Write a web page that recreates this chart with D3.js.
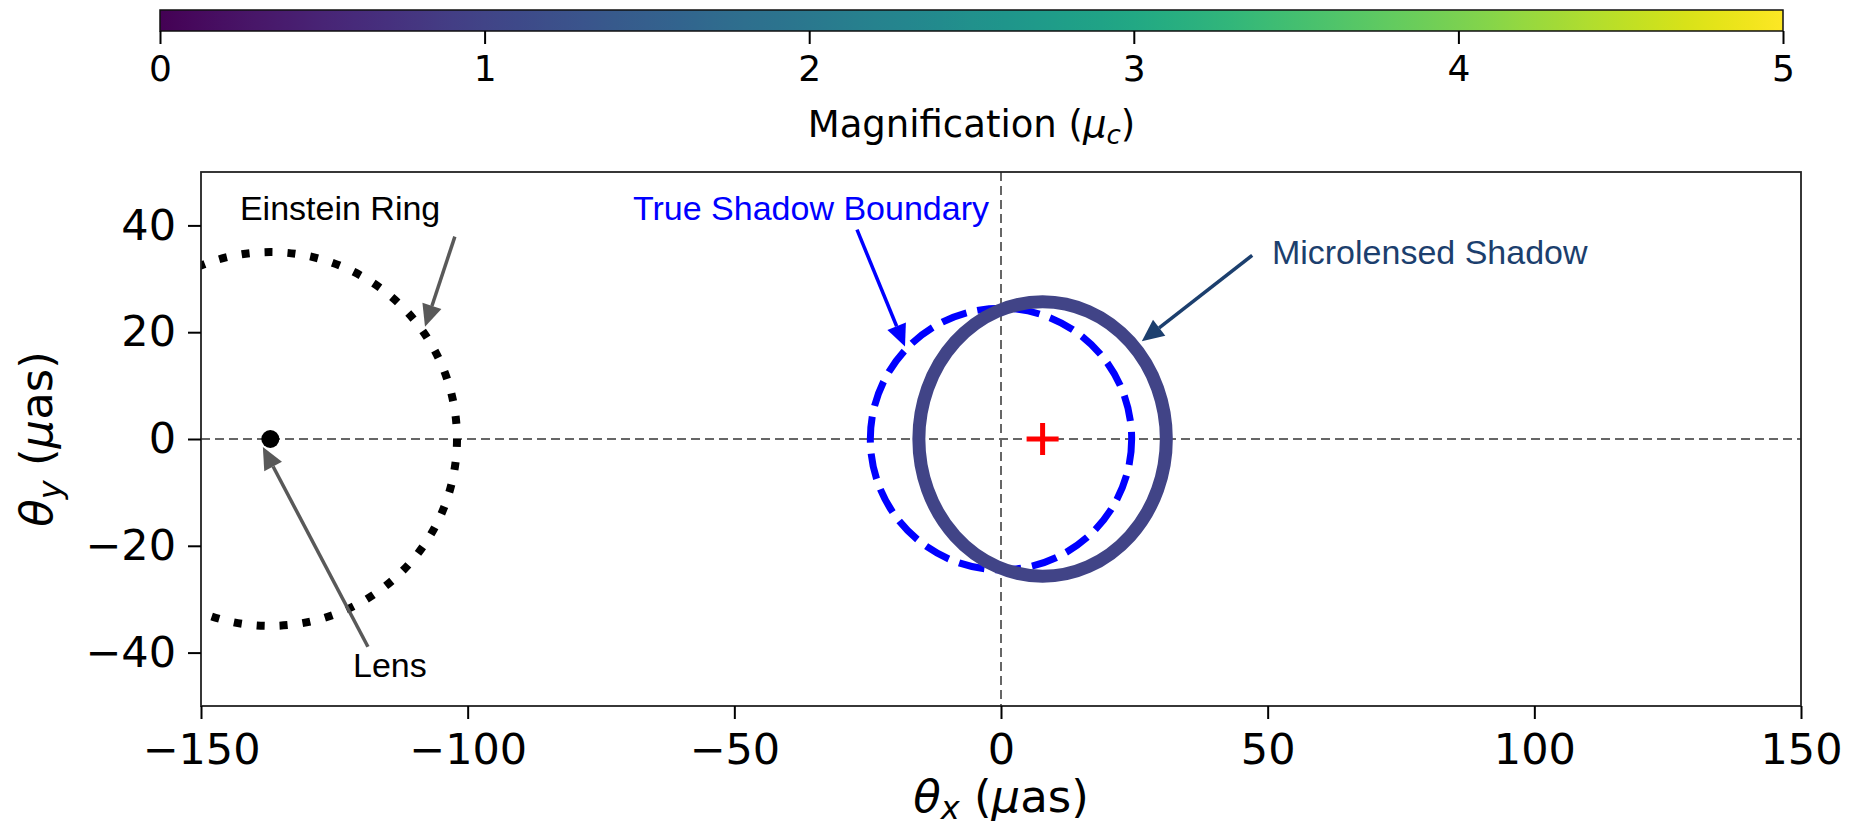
<!DOCTYPE html>
<html>
<head>
<meta charset="utf-8">
<script src="https://cdn.jsdelivr.net/npm/d3@7"></script>
<style>
  html, body { margin: 0; padding: 0; background: #fff; }
  svg { display: block; }
</style>
</head>
<body>
<div id="chart"></div>
<script>
// tick values
const xTicks = [-150, -100, -50, 0, 50, 100, 150];
const yTicks = [-40, -20, 0, 20, 40];
const cbTicks = [0, 1, 2, 3, 4, 5];

// lens position (µas)
const lensX = [-137];
const lensY = [0];

// rings: einstein ring, true shadow, microlensed shadow
const ringNames = ["Einstein Ring", "True Shadow Boundary", "Microlensed Shadow"];
const ringCx = [-137, 0, 7.8];
const ringCy = [0, 0, 0];
const ringRx = [35, 24.5, 23.2];
const ringRy = [35, 24.5, 25.7];
const shadowMag = [1];

// shadow centroid marker
const centroidX = [7.8];
const centroidY = [0];

// annotations: label, text position, arrow tail, arrow head (data coords)
const annLabels = ["Einstein Ring", "Lens", "True Shadow Boundary", "Microlensed Shadow"];
const annTextX = [-142.7, -121.5, -69.0, 50.8];
const annTextY = [41.1, -44.6, 41.1, 32.7];
const annTailX = [-102.4, -118.7, -27.0, 47.1];
const annTailY = [37.9, -38.9, 39.2, 34.4];
const annHeadX = [-108.0, -138.4, -18.0, 26.4];
const annHeadY = [21.0, -1.5, 17.3, 18.3];
const annColors = ["#000000", "#000000", "#0000ff", "#1c3f6e"];
const arrowColors = ["#595959", "#595959", "#0000ff", "#1c3f6e"];

const width = 1851;
const height = 831;

const svg = d3.select("#chart")
  .append("svg")
  .attr("width", width)
  .attr("height", height)
  .style("font-family", "'DejaVu Sans', sans-serif");

const x = d3.scaleLinear().domain([-150, 150]).range([201, 1801]);
const y = d3.scaleLinear().domain([-50, 50]).range([706, 172]);
const color = d3.scaleSequential(d3.interpolateViridis).domain([0, 5]);

// ---- colorbar ----
const cb = d3.scaleLinear().domain([0, 5]).range([160, 1783]);
const grad = svg.append("defs").append("linearGradient")
  .attr("id", "viridis")
  .attr("x1", "0%").attr("x2", "100%");
d3.range(0, 1.0001, 0.02).forEach(t => {
  grad.append("stop")
    .attr("offset", (t * 100) + "%")
    .attr("stop-color", color(t * 5));
});
svg.append("rect")
  .attr("x", cb(0)).attr("y", 10)
  .attr("width", cb(5) - cb(0)).attr("height", 21)
  .attr("fill", "url(#viridis)")
  .attr("stroke", "#111").attr("stroke-width", 1.5);

const cbAxis = svg.append("g")
  .attr("transform", "translate(0,31)")
  .call(d3.axisBottom(cb).tickValues(cbTicks).tickSize(13).tickPadding(11).tickFormat(d3.format("d")));
cbAxis.select(".domain").remove();
cbAxis.selectAll(".tick line").attr("stroke", "#000").attr("stroke-width", 2);
cbAxis.selectAll(".tick text").attr("font-size", 36).attr("fill", "#000")
  .style("font-family", "'DejaVu Sans', sans-serif");

const cbLabel = svg.append("text")
  .attr("x", (cb(0) + cb(5)) / 2).attr("y", 137)
  .attr("text-anchor", "middle")
  .attr("font-size", 37);
cbLabel.append("tspan").text("Magnification (");
cbLabel.append("tspan").attr("font-style", "italic").text("μ");
cbLabel.append("tspan").attr("font-style", "italic").attr("font-size", 26).attr("dy", 7).text("c");
cbLabel.append("tspan").attr("dy", -7).text(")");

// ---- plot area ----
svg.append("defs").append("clipPath").attr("id", "clip")
  .append("rect")
  .attr("x", x(-150)).attr("y", y(50))
  .attr("width", x(150) - x(-150)).attr("height", y(-50) - y(50));

const plot = svg.append("g").attr("clip-path", "url(#clip)");

// crosshair
plot.append("line")
  .attr("x1", x(-150)).attr("x2", x(150)).attr("y1", y(0)).attr("y2", y(0))
  .attr("stroke", "#666").attr("stroke-width", 2).attr("stroke-dasharray", "9,5");
plot.append("line")
  .attr("x1", x(0)).attr("x2", x(0)).attr("y1", y(50)).attr("y2", y(-50))
  .attr("stroke", "#666").attr("stroke-width", 2).attr("stroke-dasharray", "9,5");

// einstein ring (dotted)
plot.append("ellipse")
  .attr("cx", x(ringCx[0])).attr("cy", y(ringCy[0]))
  .attr("rx", x(ringCx[0] + ringRx[0]) - x(ringCx[0]))
  .attr("ry", y(ringCy[0]) - y(ringCy[0] + ringRy[0]))
  .attr("fill", "none").attr("stroke", "#000")
  .attr("stroke-width", 8).attr("stroke-dasharray", "8,15");

// true shadow boundary (dashed)
plot.append("ellipse")
  .attr("cx", x(ringCx[1])).attr("cy", y(ringCy[1]))
  .attr("rx", x(ringCx[1] + ringRx[1]) - x(ringCx[1]))
  .attr("ry", y(ringCy[1]) - y(ringCy[1] + ringRy[1]))
  .attr("fill", "none").attr("stroke", "#0000ff")
  .attr("stroke-width", 7).attr("stroke-dasharray", "26,11");

// microlensed shadow
plot.append("ellipse")
  .attr("cx", x(ringCx[2])).attr("cy", y(ringCy[2]))
  .attr("rx", x(ringCx[2] + ringRx[2]) - x(ringCx[2]))
  .attr("ry", y(ringCy[2]) - y(ringCy[2] + ringRy[2]))
  .attr("fill", "none").attr("stroke", color(shadowMag[0]))
  .attr("stroke-width", 13);

// lens
plot.append("circle")
  .attr("cx", x(lensX[0])).attr("cy", y(lensY[0])).attr("r", 9)
  .attr("fill", "#000");

// centroid plus
const px = x(centroidX[0]), py = y(centroidY[0]);
plot.append("path")
  .attr("d", `M${px - 16},${py}H${px + 16}M${px},${py - 16}V${py + 16}`)
  .attr("stroke", "#ff0000").attr("stroke-width", 5);

// frame
svg.append("rect")
  .attr("x", x(-150)).attr("y", y(50))
  .attr("width", x(150) - x(-150)).attr("height", y(-50) - y(50))
  .attr("fill", "none").attr("stroke", "#222").attr("stroke-width", 1.8);

// axes
const xAxis = svg.append("g")
  .attr("transform", `translate(0,${y(-50)})`)
  .call(d3.axisBottom(x).tickValues(xTicks).tickSize(13).tickPadding(14));
const yAxis = svg.append("g")
  .attr("transform", `translate(${x(-150)},0)`)
  .call(d3.axisLeft(y).tickValues(yTicks).tickSize(13).tickPadding(12));
[xAxis, yAxis].forEach(a => {
  a.select(".domain").remove();
  a.selectAll(".tick line").attr("stroke", "#000").attr("stroke-width", 2);
  a.selectAll(".tick text").attr("font-size", 43).attr("fill", "#000")
    .style("font-family", "'DejaVu Sans', sans-serif");
});

// axis labels
const xl = svg.append("text")
  .attr("x", x(0)).attr("y", 812)
  .attr("text-anchor", "middle").attr("font-size", 45);
xl.append("tspan").attr("font-style", "italic").text("θ");
xl.append("tspan").attr("font-style", "italic").attr("font-size", 32).attr("dy", 7).text("x");
xl.append("tspan").attr("dy", -7).text(" (");
xl.append("tspan").attr("font-style", "italic").text("μ");
xl.append("tspan").text("as)");

const yl = svg.append("text")
  .attr("transform", `translate(52,${y(0)}) rotate(-90)`)
  .attr("text-anchor", "middle").attr("font-size", 45);
yl.append("tspan").attr("font-style", "italic").text("θ");
yl.append("tspan").attr("font-style", "italic").attr("font-size", 32).attr("dy", 9).text("y");
yl.append("tspan").attr("dy", -9).text(" (");
yl.append("tspan").attr("font-style", "italic").text("μ");
yl.append("tspan").text("as)");

// annotations
const ann = svg.append("g");
annLabels.forEach((label, i) => {
  ann.append("text")
    .attr("x", x(annTextX[i])).attr("y", y(annTextY[i]))
    .attr("font-family", "'Liberation Sans', Arial, sans-serif")
    .attr("font-size", 34)
    .attr("fill", annColors[i])
    .text(label);

  const x1 = x(annTailX[i]), y1 = y(annTailY[i]);
  const x2 = x(annHeadX[i]), y2 = y(annHeadY[i]);
  const ang = Math.atan2(y2 - y1, x2 - x1);
  const hl = 22, hw = 10;
  const bx = x2 - hl * Math.cos(ang), by = y2 - hl * Math.sin(ang);
  ann.append("line")
    .attr("x1", x1).attr("y1", y1).attr("x2", bx).attr("y2", by)
    .attr("stroke", arrowColors[i]).attr("stroke-width", 3.5);
  ann.append("path")
    .attr("d", `M${x2},${y2}L${bx + hw * Math.sin(ang)},${by - hw * Math.cos(ang)}L${bx - hw * Math.sin(ang)},${by + hw * Math.cos(ang)}Z`)
    .attr("fill", arrowColors[i]);
});
</script>
</body>
</html>
